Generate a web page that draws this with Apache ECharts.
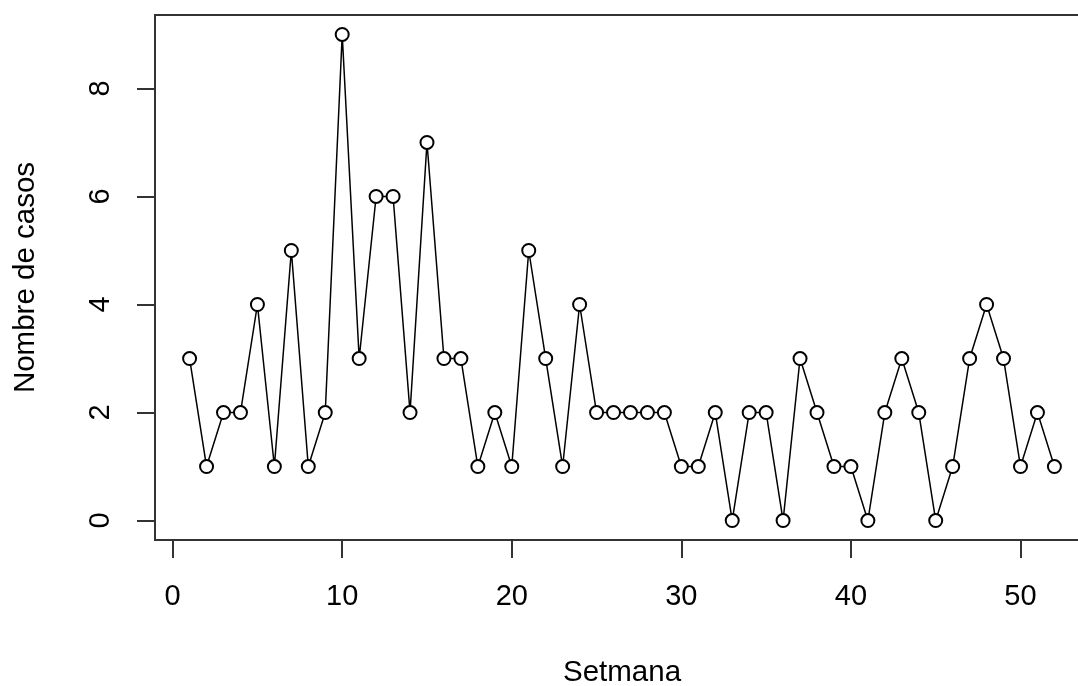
<!DOCTYPE html>
<html>
<head>
<meta charset="utf-8">
<script src="https://cdn.jsdelivr.net/npm/echarts@6/dist/echarts.min.js"></script>
<style>html,body{margin:0;padding:0;background:#fff;}#c{width:1078px;height:686px;}</style>
</head>
<body>
<div id="c"></div>
<script>
const weeks = [1,2,3,4,5,6,7,8,9,10,11,12,13,14,15,16,17,18,19,20,21,22,23,24,25,26,27,28,29,30,31,32,33,34,35,36,37,38,39,40,41,42,43,44,45,46,47,48,49,50,51,52];
const cases = [3,1,2,2,4,1,5,1,2,9,3,6,6,2,7,3,3,1,2,1,5,3,1,4,2,2,2,2,2,1,1,2,0,2,2,0,3,2,1,1,0,2,3,2,0,1,3,4,3,1,2,1];
const xTicks = [0,10,20,30,40,50];
const yTicks = [0,2,4,6,8];
const xTitle = 'Setmana';
const yTitle = 'Nombre de casos';

const font = 'Liberation Sans, Arial, sans-serif';
const chart = echarts.init(document.getElementById('c'));
chart.setOption({
  animation: false,
  backgroundColor: '#fff',
  grid: {left: 155, top: 15, width: 934, height: 525, outerBoundsMode: 'none', containLabel: false, show: true, borderColor: '#333', borderWidth: 2, backgroundColor: 'transparent'},
  xAxis: {
    type: 'value', min: -1.04, max: 54.04,
    name: xTitle, nameLocation: 'middle', nameGap: 118,
    nameTextStyle: {fontFamily: font, fontSize: 29.5, color: '#000'},
    axisLine: {show: false, onZero: false},
    splitLine: {show: false},
    axisTick: {show: true, length: 18, customValues: xTicks, lineStyle: {color: '#333', width: 2}},
    axisLabel: {customValues: xTicks, margin: 42, fontFamily: font, fontSize: 29, color: '#000'}
  },
  yAxis: {
    type: 'value', min: -0.36, max: 9.36,
    name: yTitle, nameLocation: 'middle', nameGap: 114,
    nameTextStyle: {fontFamily: font, fontSize: 29.5, color: '#000'},
    axisLine: {show: false, onZero: false},
    splitLine: {show: false},
    axisTick: {show: true, length: 18, customValues: yTicks, lineStyle: {color: '#333', width: 2}},
    axisLabel: {customValues: yTicks, rotate: 90, margin: 40, fontFamily: font, fontSize: 29, color: '#000'}
  },
  series: [{
    type: 'line',
    data: weeks.map((w, i) => [w, cases[i]]),
    symbol: 'emptyCircle', symbolSize: 13,
    lineStyle: {color: '#000', width: 1.5},
    itemStyle: {color: '#000', borderColor: '#000', borderWidth: 1}
  }]
});
</script>
</body>
</html>
